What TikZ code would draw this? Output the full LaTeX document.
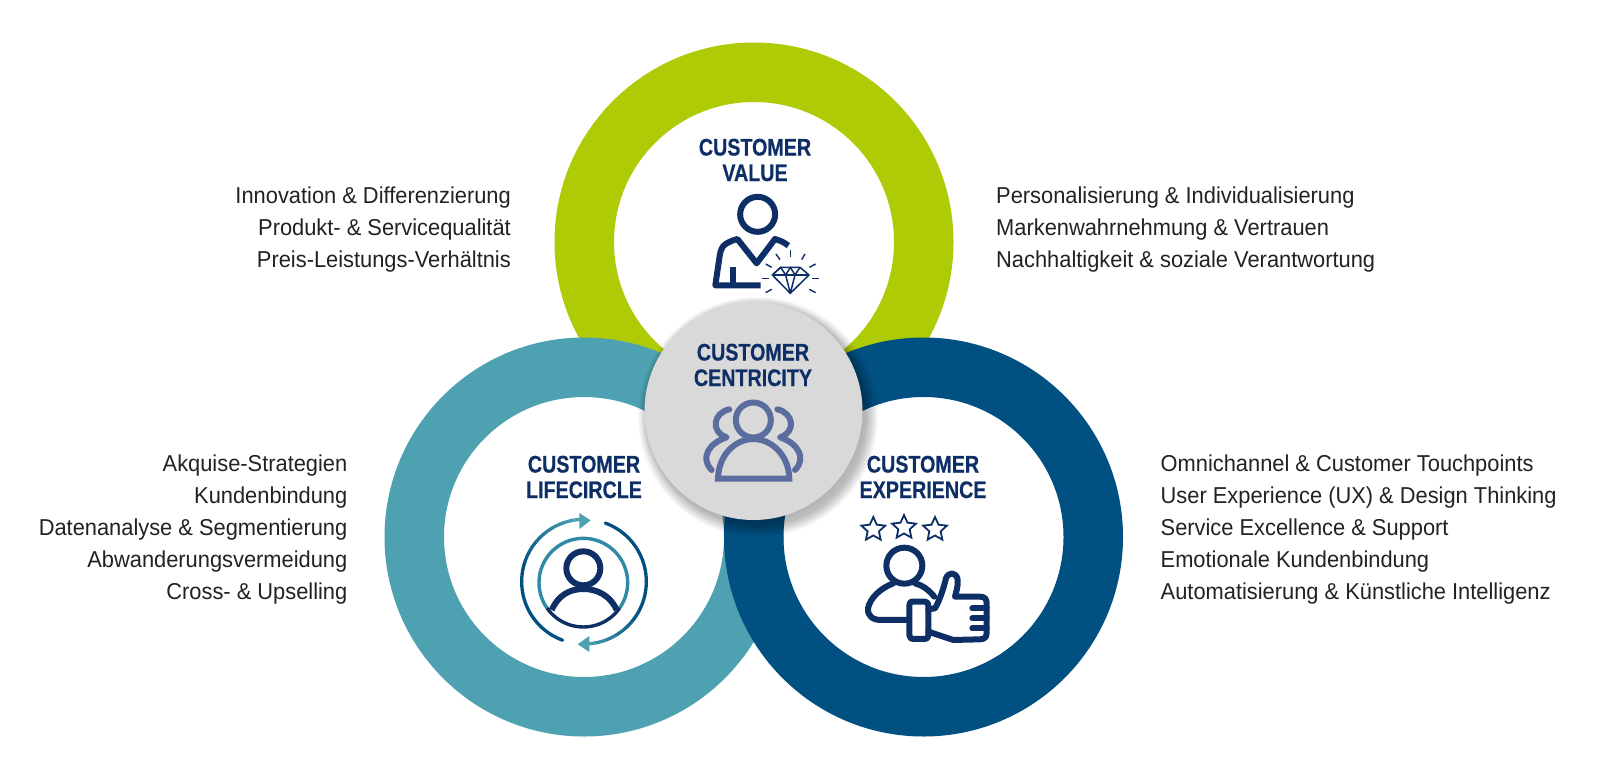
\documentclass[tikz,border=0pt]{standalone}
\usepackage{fontspec}
\usetikzlibrary{shapes.geometric}
\newfontfamily\bodyf[FakeStretch=0.95]{Liberation Sans}
\newfontfamily\titlef[FakeStretch=0.82,FakeBold=0.4]{Liberation Sans Bold}
\definecolor{cgreen}{HTML}{AFCB05}
\definecolor{cteal}{HTML}{4DA1B0}
\definecolor{cdark}{HTML}{005082}
\definecolor{cnavy}{HTML}{0D2F66}
\definecolor{cgrey}{HTML}{D9D9D9}
\definecolor{cicon}{HTML}{5B6D9E}
\definecolor{cmid}{HTML}{2F8AA5}
\definecolor{ctext}{HTML}{222222}
\tikzset{
  title/.style={font=\titlef\fontsize{24}{26}\selectfont,text=cnavy,inner sep=0pt,align=center},
  rlabel/.style={font=\bodyf\fontsize{23}{26}\selectfont,text=ctext,inner sep=0pt,anchor=base east},
  llabel/.style={font=\bodyf\fontsize{23}{26}\selectfont,text=ctext,inner sep=0pt,anchor=base west},
  icon/.style={line width=6pt,line join=round,line cap=round},
  thin icon/.style={line width=1.5pt,line join=round,draw=cnavy},
  ray/.style={line width=1.4pt,draw=cnavy},
  starbox/.style={star,star points=5,star point ratio=2.1,draw=cnavy,line width=1.8pt,minimum size=25pt,inner sep=0pt}
}
\begin{document}
\begin{tikzpicture}[x=1pt,y=-1pt]
\useasboundingbox (0,0) rectangle (1600,774);
\fill[white] (0,0) rectangle (1600,774);
% rings
\fill[cgreen,even odd rule] (754,242) circle[radius=199.5pt] (754,242) circle[radius=140pt];
\fill[cteal,even odd rule] (584,537) circle[radius=199.5pt] (584,537) circle[radius=140pt];
\fill[cdark,even odd rule] (923.5,537) circle[radius=199.5pt] (923.5,537) circle[radius=140pt];
% centre disc with soft shadow
\foreach \r in {109,110,...,120}{
  \fill[black,opacity=0.025] (758,417) circle[radius=\r pt];
}
\foreach \r in {109,111,113}{
  \fill[black,opacity=0.015] (754,411) circle[radius=\r pt];
}
\node[circle,fill=cgrey,minimum size=218pt,inner sep=0pt,outer sep=0pt] (centre) at (753.5,411) {};
% titles
\node[title] (tv) at (755,160) {CUSTOMER\\[-0.5pt]VALUE};
\node[title] (tl) at (584,477) {CUSTOMER\\[-0.5pt]LIFECIRCLE};
\node[title] (te) at (923,477) {CUSTOMER\\[-0.5pt]EXPERIENCE};
\node[title] (tc) at (753,365) {CUSTOMER\\[-0.5pt]CENTRICITY};
% value icon
\begin{scope}[shift={(620,110)},x=.3333pt,y=-.3333pt]
  \draw[icon,cnavy] (413,313) circle[radius=17.5pt];
  \draw[icon,cnavy,line cap=butt] (505,407) .. controls (490,395) and (480,392) .. (465,387) -- (410,460) -- (352,387)
     .. controls (335,392) and (320,398) .. (310,408) .. controls (302,418) and (300,430) .. (298,445) -- (286,526) -- (422,526);
  \draw[icon,cnavy,line cap=butt] (338,472) -- (338,526);
  \draw[thin icon] (482,472) -- (540,472) -- (567,495) -- (511,550) -- (457,495) -- cycle;
  \draw[thin icon] (457,495) -- (567,495);
  \draw[thin icon] (457,495) -- (482,472) -- (497,495) -- (511,472) -- (525,495) -- (540,472);
  \draw[thin icon] (497,495) -- (511,550) -- (525,495);
  \draw[ray] (511,420) -- (511,440);
  \draw[ray] (468,432) -- (480,449);
  \draw[ray] (555,432) -- (545,449);
  \draw[ray] (437,462) -- (455,472);
  \draw[ray] (587,462) -- (568,472);
  \draw[ray] (425,505) -- (447,505);
  \draw[ray] (577,505) -- (598,505);
  \draw[ray] (437,548) -- (455,538);
  \draw[ray] (587,548) -- (568,538);
\end{scope}
% lifecircle icon
\begin{scope}[shift={(500,440)},x=.3333pt,y=-.3333pt]
  \foreach \a in {250,240,...,100}{
    \pgfmathtruncatemacro{\p}{min(100,max(0,(\a-100)*100/70))}
    \draw[line width=3.3pt,line cap=round,draw=cdark!\p!cteal] plot[domain=\a:\a-10,samples=6,smooth] ({252+187*cos(\x)},{425-187*sin(\x)});
  }
  \fill[cteal] (272,241) -- (238,219) -- (238,267) -- cycle;
  \foreach \a in {70,60,...,-80}{
    \pgfmathtruncatemacro{\p}{min(100,max(0,(\a+85)*100/60))}
    \draw[line width=3.3pt,line cap=round,draw=cdark!\p!cteal] plot[domain=\a:\a-10,samples=6,smooth] ({252+187*cos(\x)},{425-187*sin(\x)});
  }
  \fill[cteal] (233,613) -- (268,588) -- (268,636) -- cycle;
  \draw[line width=3.4pt,draw=cmid] plot[domain=-35:215,samples=50,smooth] ({250+133*cos(\x)},{428-133*sin(\x)});
  \draw[line width=3.4pt,draw=cnavy] plot[domain=215:325,samples=25,smooth] ({250+133*cos(\x)},{428-133*sin(\x)});
  \draw[line width=6pt,draw=cnavy] (250,385) circle[radius=17pt];
  \draw[line width=6pt,draw=cnavy] (155,510) .. controls (175,465) and (210,447) .. (250,447) .. controls (290,447) and (330,465) .. (350,510);
\end{scope}
% experience icon
\node[starbox] (s1) at (873.3,529.5) {};
\node[starbox] (s2) at (904,527.5) {};
\node[starbox] (s3) at (935,529.5) {};
\begin{scope}[shift={(840,440)},x=.3333pt,y=-.3333pt]
  \draw[icon,cnavy] (193,377) circle[radius=18pt];
  \draw[icon,cnavy] (283,470) .. controls (265,448) and (245,435) .. (225,430)
     (160,430) .. controls (120,445) and (90,475) .. (84,505) .. controls (82,530) and (100,540) .. (125,540) -- (205,540);
  \draw[icon,cnavy] (215,485) -- (255,485) .. controls (262,485) and (265,490) .. (265,497) -- (265,585) .. controls (265,592) and (262,597) .. (255,597)
     -- (222,597) .. controls (212,597) and (208,592) .. (208,585) -- (208,497) .. controls (208,490) and (210,485) .. (215,485) -- cycle;
  \draw[icon,cnavy] (265,508) -- (285,505) .. controls (300,480) and (312,440) .. (318,415) .. controls (325,395) and (350,395) .. (353,420) .. controls (355,440) and (348,455) .. (345,470)
     -- (420,470) .. controls (435,470) and (440,478) .. (440,490) -- (440,580) .. controls (440,592) and (432,598) .. (420,598) -- (340,600) -- (265,575);
  \draw[icon,cnavy] (397,505) -- (440,505);
  \draw[icon,cnavy] (397,535) -- (440,535);
  \draw[icon,cnavy] (397,565) -- (440,565);
\end{scope}
% centricity icon
\begin{scope}[shift={(620,290)},x=.3333pt,y=-.3333pt]
  \draw[icon,cicon] (400,390) circle[radius=17.5pt];
  \draw[icon,cicon,line cap=butt,line join=miter] (294,566) .. controls (296,490) and (350,447) .. (400,447) .. controls (450,447) and (506,490) .. (508,566) -- cycle;
  \draw[icon,cicon] (328,358) .. controls (280,368) and (270,425) .. (320,442) .. controls (265,460) and (240,505) .. (275,540);
  \draw[icon,cicon] (472,358) .. controls (520,368) and (530,425) .. (480,442) .. controls (535,460) and (560,505) .. (525,540);
\end{scope}
% labels
\node[rlabel] (a1) at (511,203.3) {Innovation \& Differenzierung};
\node[rlabel] (a2) at (511,235.5) {Produkt- \& Servicequalität};
\node[rlabel] (a3) at (511,267.3) {Preis-Leistungs-Verhältnis};
\node[llabel] (b1) at (996,203.3) {Personalisierung \& Individualisierung};
\node[llabel] (b2) at (996,235.5) {Markenwahrnehmung \& Vertrauen};
\node[llabel] (b3) at (996,267.3) {Nachhaltigkeit \& soziale Verantwortung};
\node[rlabel] (c1) at (347.5,471.7) {Akquise-Strategien};
\node[rlabel] (c2) at (347.5,503.7) {Kundenbindung};
\node[rlabel] (c3) at (347.5,535.7) {Datenanalyse \& Segmentierung};
\node[rlabel] (c4) at (347.5,567.7) {Abwanderungsvermeidung};
\node[rlabel] (c5) at (347.5,599.5) {Cross- \& Upselling};
\node[llabel] (d1) at (1160.5,471.7) {Omnichannel \& Customer Touchpoints};
\node[llabel] (d2) at (1160.5,503.7) {User Experience (UX) \& Design Thinking};
\node[llabel] (d3) at (1160.5,535.7) {Service Excellence \& Support};
\node[llabel] (d4) at (1160.5,567.7) {Emotionale Kundenbindung};
\node[llabel] (d5) at (1160.5,599.5) {Automatisierung \& Künstliche Intelligenz};
\end{tikzpicture}
\end{document}
